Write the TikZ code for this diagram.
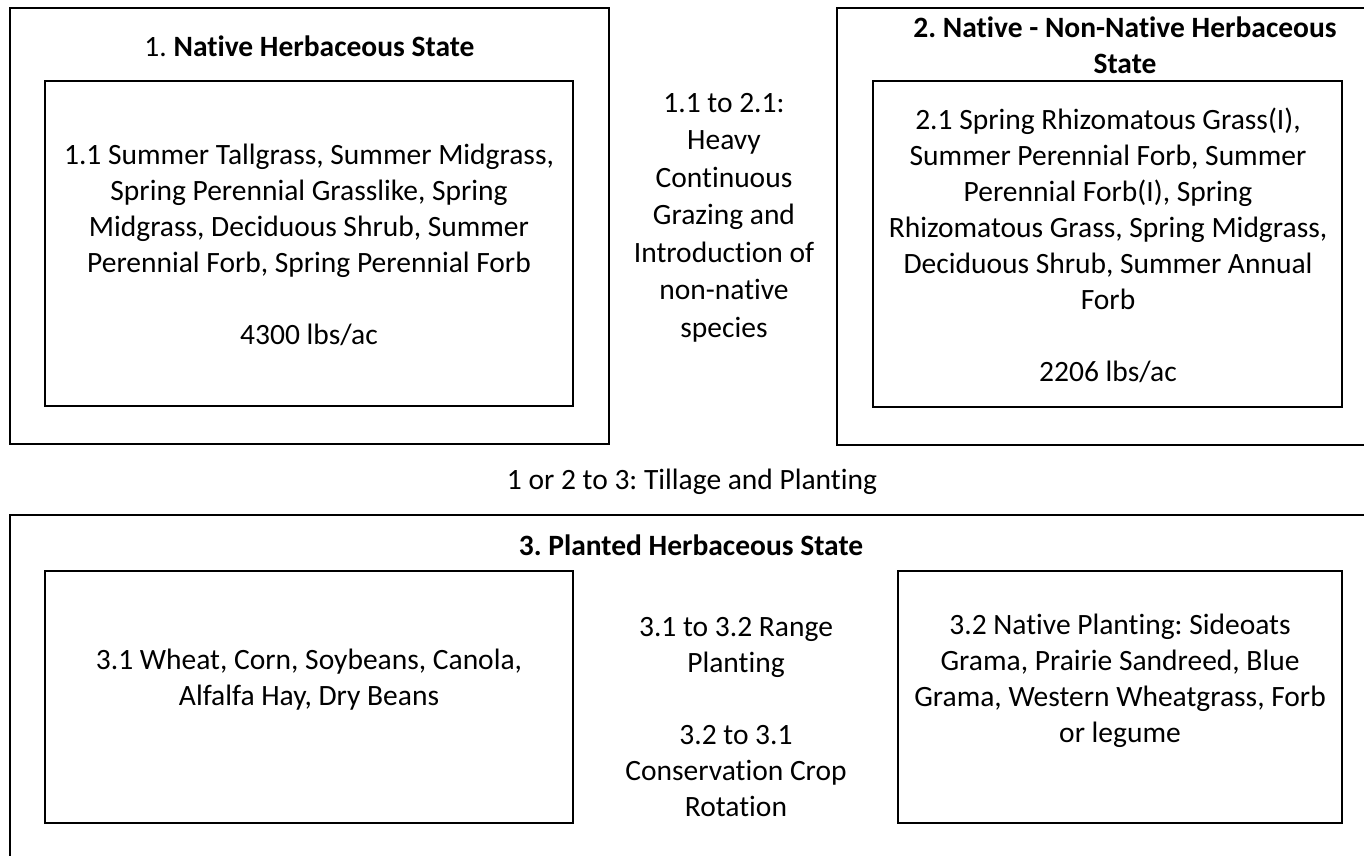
\documentclass[tikz,border=0pt]{standalone}
\usepackage{fontspec}
\setmainfont{Carlito}[Ligatures=NoCommon]
\begin{document}
\begin{tikzpicture}[x=1pt,y=-1pt,
  box/.style={draw=black,line width=1.3pt,inner sep=0pt,rectangle},
  txt/.style={align=center,inner sep=0pt,font=\fontsize{29.5}{36}\selectfont\frenchspacing},
  midtxt/.style={align=center,inner sep=0pt,font=\fontsize{29.5}{37.5}\selectfont\frenchspacing}]
\useasboundingbox (0,0) rectangle (1364,855);
\clip (0,0) rectangle (1364,855);
% state boxes
\node[box,minimum width=599pt,minimum height=436pt] (s1) at (309.5,226) {};
\node[box,minimum width=528pt,minimum height=325pt] (c11) at (309,243.5) {};
\node[box,minimum width=576pt,minimum height=437pt] (s2) at (1125,226.5) {};
\node[box,minimum width=469pt,minimum height=326pt] (c21) at (1107.5,244) {};
\node[box,minimum width=1362pt,minimum height=385pt] (s3) at (691,707.5) {};
\node[box,minimum width=528pt,minimum height=252pt] (c31) at (309,697) {};
\node[box,minimum width=444pt,minimum height=252pt] (c32) at (1120,697) {};
% titles
\node[txt] (t1) at (309.5,46) {1. \textbf{Native Herbaceous State}};
\node[txt] (t2) at (1125,45.5) {\textbf{2. Native - Non-Native Herbaceous}\\\textbf{State}};
\node[txt] (t3) at (691,545) {\textbf{3. Planted Herbaceous State}};
% community texts
\node[txt] (x11) at (309,244.5) {1.1 Summer Tallgrass, Summer Midgrass,\\Spring Perennial Grasslike, Spring\\Midgrass, Deciduous Shrub, Summer\\Perennial Forb, Spring Perennial Forb\\[36pt]4300 lbs/ac};
\node[txt] (x21) at (1108,245) {2.1 Spring Rhizomatous Grass(I),\\Summer Perennial Forb, Summer\\Perennial Forb(I), Spring\\Rhizomatous Grass, Spring Midgrass,\\Deciduous Shrub, Summer Annual\\Forb\\[36pt]2206 lbs/ac};
\node[txt] (x31) at (309,680) {3.1 Wheat, Corn, Soybeans, Canola,\\Alfalfa Hay, Dry Beans};
\node[txt] (x32) at (1120,681) {3.2 Native Planting: Sideoats\\Grama, Prairie Sandreed, Blue\\Grama, Western Wheatgrass, Forb\\or legume};
% transitions
\node[midtxt] (tr12) at (724,217.5) {1.1 to 2.1:\\Heavy\\Continuous\\Grazing and\\Introduction of\\non-native\\species};
\node[txt] (tr3) at (692,482) {1 or 2 to 3: Tillage and Planting};
\node[txt] (tr31) at (736,717) {3.1 to 3.2 Range\\Planting\\[36pt]3.2 to 3.1\\Conservation Crop\\Rotation};
\end{tikzpicture}
\end{document}
